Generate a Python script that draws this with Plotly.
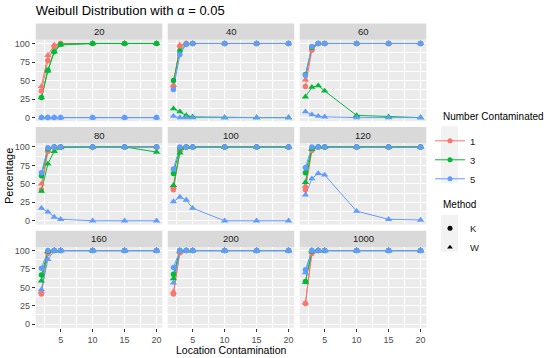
import plotly.graph_objects as go

# ---------------- data ----------------
panels = ["20", "40", "60", "80", "100", "120", "160", "200", "1000"]
locations = [2, 3, 4, 5, 10, 15, 20]
groups = ["1", "3", "5"]
methods = ["K", "W"]

# Number contaminated = 1
k1 = [
    [36, 77, 96, 100, 100, 100, 100],
    [42, 96, 100, 100, 100, 100, 100],
    [42, 91, 100, 100, 100, 100, 100],
    [42, 94, 100, 100, 100, 100, 100],
    [42, 94, 100, 100, 100, 100, 100],
    [42, 95, 100, 100, 100, 100, 100],
    [41, 96, 100, 100, 100, 100, 100],
    [41, 97, 100, 100, 100, 100, 100],
    [28, 96, 100, 100, 100, 100, 100],
]
w1 = [
    [42, 84, 98, 100, 100, 100, 100],
    [44, 98, 100, 100, 100, 100, 100],
    [51, 93, 100, 100, 100, 100, 100],
    [50, 95, 100, 100, 100, 100, 100],
    [46, 96, 100, 100, 100, 100, 100],
    [47, 97, 100, 100, 100, 100, 100],
    [44, 98, 100, 100, 100, 100, 100],
    [44, 98, 100, 100, 100, 100, 100],
    [29, 98, 100, 100, 100, 100, 100],
]
# Number contaminated = 3
k3 = [
    [27, 64, 89, 99, 100, 100, 100],
    [50, 90, 99, 100, 100, 100, 100],
    [58, 95, 100, 100, 100, 100, 100],
    [61, 97, 100, 100, 100, 100, 100],
    [64, 98, 100, 100, 100, 100, 100],
    [65, 98, 100, 100, 100, 100, 100],
    [67, 99, 100, 100, 100, 100, 100],
    [68, 100, 100, 100, 100, 100, 100],
    [58, 99, 100, 100, 100, 100, 100],
]
w3 = [
    [27, 63, 89, 98, 100, 100, 100],
    [12, 8, 3, 1, 0, 0, 0],
    [28, 41, 43, 36, 3, 1, 0],
    [40, 77, 94, 99, 100, 100, 93],
    [48, 92, 100, 100, 100, 100, 100],
    [52, 97, 100, 100, 100, 100, 100],
    [59, 99, 100, 100, 100, 100, 100],
    [62, 100, 100, 100, 100, 100, 100],
    [57, 100, 100, 100, 100, 100, 100],
]
# Number contaminated = 5
k5 = [
    [0, 0, 0, 0, 0, 0, 0],
    [38, 85, 99, 100, 100, 100, 100],
    [57, 96, 100, 100, 100, 100, 100],
    [65, 99, 100, 100, 100, 100, 100],
    [70, 100, 100, 100, 100, 100, 100],
    [72, 100, 100, 100, 100, 100, 100],
    [76, 100, 100, 100, 100, 100, 100],
    [77, 100, 100, 100, 100, 100, 100],
    [74, 100, 100, 100, 100, 100, 100],
]
w5 = [
    [0, 0, 0, 0, 0, 0, 0],
    [2, 0, 0, 0, 0, 0, 0],
    [8, 4, 2, 1, 0, 0, 0],
    [17, 12, 5, 2, 0, 0, 0],
    [26, 32, 28, 17, 0, 0, 0],
    [35, 57, 64, 62, 13, 2, 1],
    [47, 88, 100, 100, 100, 100, 100],
    [56, 99, 100, 100, 100, 100, 100],
    [70, 100, 100, 100, 100, 100, 100],
]

y_ticks = [0, 25, 50, 75, 100]
x_ticks = [5, 10, 15, 20]

# ---------------- style ----------------
W, H = 550, 358
colors = {"1": "#F8766D", "3": "#00BA38", "5": "#619CFF"}
symbols = {"K": "circle", "W": "triangle-up"}
msize = {"K": 5.5, "W": 6.5}
FONT = "Liberation Sans, Arial, sans-serif"

col_px = [(35.7, 162.3), (167.7, 294.3), (299.7, 426.3)]
row_px = [(39.0, 121.0), (143.0, 224.7), (247.3, 328.7)]
strip_h = 16.3


def px_x(p):
    return p / W


def px_y(p):
    return 1 - p / H


series = [("1", "K", k1), ("1", "W", w1), ("3", "K", k3),
          ("3", "W", w3), ("5", "K", k5), ("5", "W", w5)]

fig = go.Figure()
shapes = []
annotations = []
layout_axes = {}

for i, pname in enumerate(panels):
    r, c = divmod(i, 3)
    sfx = "" if i == 0 else str(i + 1)
    xa, ya = "x" + sfx, "y" + sfx
    for g, m, data in series:
        fig.add_trace(go.Scatter(
            x=locations, y=data[i], mode="lines",
            line=dict(color=colors[g], width=1),
            xaxis=xa, yaxis=ya, showlegend=False, hoverinfo="skip"))
    for g, m, data in series:
        fig.add_trace(go.Scatter(
            x=locations, y=data[i], mode="markers",
            marker=dict(color=colors[g], symbol=symbols[m], size=msize[m],
                        line=dict(width=0)),
            xaxis=xa, yaxis=ya, showlegend=False, hoverinfo="skip"))

    x0, x1 = col_px[c]
    yt, yb = row_px[r]
    layout_axes["xaxis" + sfx] = dict(
        domain=[px_x(x0), px_x(x1)], anchor=ya, range=[1.1, 20.9],
        tickvals=x_ticks, showticklabels=(r == 2),
        ticks="outside" if r == 2 else "", ticklen=3, tickcolor="#333333",
        tickfont=dict(size=9, color="#4D4D4D", family=FONT),
        showgrid=True, gridcolor="white", gridwidth=1, zeroline=False,
        showline=False,
        minor=dict(tickvals=[2.5, 7.5, 12.5, 17.5], showgrid=True,
                   gridcolor="white", gridwidth=0.5, ticks=""),
        fixedrange=True)
    layout_axes["yaxis" + sfx] = dict(
        domain=[px_y(yb), px_y(yt)], anchor=xa, range=[-5, 105],
        tickvals=y_ticks, showticklabels=(c == 0),
        ticks="outside" if c == 0 else "", ticklen=3, tickcolor="#333333",
        tickfont=dict(size=9, color="#4D4D4D", family=FONT),
        showgrid=True, gridcolor="white", gridwidth=1, zeroline=False,
        showline=False,
        minor=dict(tickvals=[12.5, 37.5, 62.5, 87.5], showgrid=True,
                   gridcolor="white", gridwidth=0.5, ticks=""),
        fixedrange=True)
    # panel background
    shapes.append(dict(type="rect", xref="paper", yref="paper",
                       x0=px_x(x0), x1=px_x(x1), y0=px_y(yb), y1=px_y(yt),
                       fillcolor="#EBEBEB", line=dict(width=0), layer="below"))
    # strip
    shapes.append(dict(type="rect", xref="paper", yref="paper",
                       x0=px_x(x0), x1=px_x(x1), y0=px_y(yt),
                       y1=px_y(yt - strip_h),
                       fillcolor="#D9D9D9", line=dict(width=0), layer="below"))
    annotations.append(dict(text=pname, xref="paper", yref="paper",
                            x=px_x((x0 + x1) / 2), y=px_y(yt - strip_h / 2),
                            xanchor="center", yanchor="middle", showarrow=False,
                            font=dict(size=9.5, color="#1A1A1A", family=FONT)))

# legend key backgrounds (ggplot grey95 key boxes)
shapes.append(dict(type="rect", xref="paper", yref="paper",
                   x0=px_x(441), x1=px_x(458), y0=px_y(183), y1=px_y(126),
                   fillcolor="#F2F2F2", line=dict(width=0), layer="below"))
shapes.append(dict(type="rect", xref="paper", yref="paper",
                   x0=px_x(441), x1=px_x(458), y0=px_y(252), y1=px_y(215),
                   fillcolor="#F2F2F2", line=dict(width=0), layer="below"))

# legend entries
for g in groups:
    fig.add_trace(go.Scatter(
        x=[None], y=[None], mode="lines+markers", name=g,
        line=dict(color=colors[g], width=1),
        marker=dict(color=colors[g], symbol="circle", size=5),
        legend="legend"))
for m in methods:
    fig.add_trace(go.Scatter(
        x=[None], y=[None], mode="markers", name=m,
        marker=dict(color="black", symbol=symbols[m], size=5),
        legend="legend2"))

# legend titles
annotations.append(dict(text="Number Contaminated", xref="paper", yref="paper",
                        x=px_x(441), y=px_y(116), xanchor="left", yanchor="middle",
                        showarrow=False,
                        font=dict(size=10, color="black", family=FONT)))
annotations.append(dict(text="Method", xref="paper", yref="paper",
                        x=px_x(441), y=px_y(205), xanchor="left", yanchor="middle",
                        showarrow=False,
                        font=dict(size=10, color="black", family=FONT)))

# axis titles
annotations.append(dict(text="Percentage", xref="paper", yref="paper",
                        x=px_x(9), y=px_y(176), textangle=-90,
                        xanchor="center", yanchor="middle", showarrow=False,
                        font=dict(size=11, color="black", family=FONT)))
annotations.append(dict(text="Location Contamination", xref="paper", yref="paper",
                        x=px_x(231), y=px_y(350.5),
                        xanchor="center", yanchor="middle", showarrow=False,
                        font=dict(size=10.5, color="black", family=FONT)))

fig.update_layout(
    width=W, height=H,
    margin=dict(l=0, r=0, t=0, b=0),
    paper_bgcolor="white", plot_bgcolor="rgba(0,0,0,0)",
    title=dict(text="Weibull Distribution with α = 0.05",
               x=px_x(35.7), xanchor="left", xref="paper",
               y=px_y(10), yanchor="middle", yref="paper",
               font=dict(size=13, color="black", family=FONT)),
    shapes=shapes, annotations=annotations,
    legend=dict(x=px_x(430), y=px_y(126), xanchor="left", yanchor="top",
                font=dict(size=9.5, color="#1A1A1A", family=FONT),
                bgcolor="rgba(0,0,0,0)", tracegroupgap=0, itemwidth=30),
    legend2=dict(x=px_x(430), y=px_y(214), xanchor="left", yanchor="top",
                 font=dict(size=9.5, color="#1A1A1A", family=FONT),
                 bgcolor="rgba(0,0,0,0)", tracegroupgap=0, itemwidth=30),
    showlegend=True,
    **layout_axes,
)

fig.write_html("out.html",
               config={"displayModeBar": False},
               post_script="document.body.style.margin='0px';"
                           "document.body.style.padding='0px';"
                           "document.body.style.overflow='hidden';")
